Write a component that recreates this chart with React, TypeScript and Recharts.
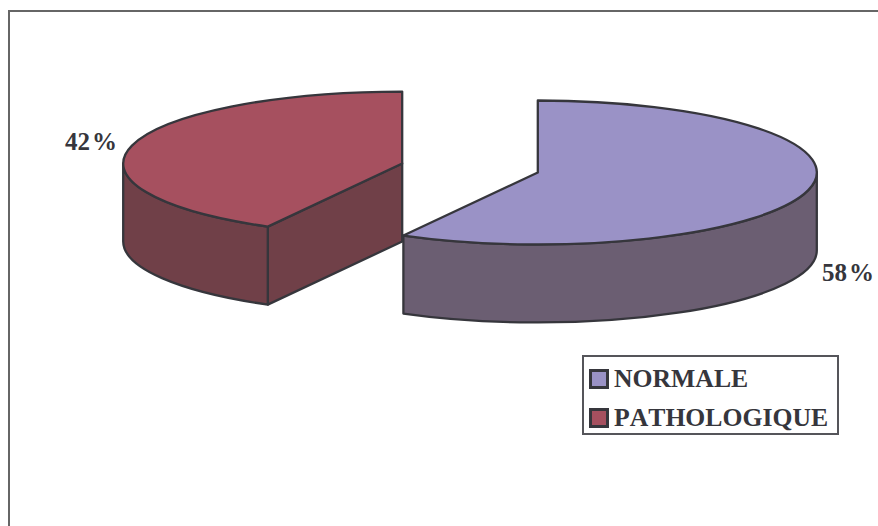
import { Legend, Pie, PieChart } from 'recharts';

const categories = ['NORMALE', 'PATHOLOGIQUE'];
const values = [58, 42];
const topColors = ['#9a92c6', '#a6505f'];
const sideColors = ['#6b5e72', '#704048'];

const data = categories.map((name, i) => ({
  name,
  value: values[i],
  fill: topColors[i],
  side: sideColors[i],
}));

const INK = '#36363c';
const SERIF = '"Liberation Serif", "Times New Roman", serif';
const SQUASH = 0.258; // vertical flattening of the disc
const DEPTH = 78; // height of the disc walls
const EXPLODE = 70; // how far each slice is pulled from the centre

// label offsets from the slice's rim at its mid angle
const labelNudge = [
  { dx: 40, dy: 91 },
  { dx: -41, dy: 4 },
];

const RAD = Math.PI / 180;

function sliceOrigin(cx: number, cy: number, mid: number) {
  return {
    x: cx + EXPLODE * Math.cos(mid * RAD),
    y: cy - EXPLODE * Math.sin(mid * RAD) * SQUASH,
  };
}

// Flattened pie slice with its front-facing walls
function Slice3D(props: any) {
  const { cx, cy, outerRadius: rx, startAngle, endAngle, midAngle, fill, payload } = props;
  const ry = rx * SQUASH;
  const o = sliceOrigin(cx, cy, midAngle);
  const at = (deg: number) => ({
    x: o.x + rx * Math.cos(deg * RAD),
    y: o.y - ry * Math.sin(deg * RAD),
  });
  const side = payload?.side ?? props.side;
  const start = at(startAngle);
  const end = at(endAngle);
  const large = Math.abs(startAngle - endAngle) > 180 ? 1 : 0;
  const top = `M${o.x},${o.y} L${start.x},${start.y} A${rx},${ry} 0 ${large} 1 ${end.x},${end.y} Z`;

  const walls: string[] = [];
  // cut faces, only those turned towards the viewer
  if (Math.sin((startAngle + 90) * RAD) < -1e-6) {
    walls.push(`M${o.x},${o.y} L${start.x},${start.y} V${start.y + DEPTH} L${o.x},${o.y + DEPTH} Z`);
  }
  if (Math.sin((endAngle - 90) * RAD) < -1e-6) {
    walls.push(`M${o.x},${o.y} L${end.x},${end.y} V${end.y + DEPTH} L${o.x},${o.y + DEPTH} Z`);
  }
  // outer wall covers the part of the rim on the lower half
  const hi = Math.min(startAngle, 0);
  const lo = Math.max(endAngle, -180);
  if (hi > lo) {
    const a = at(hi);
    const b = at(lo);
    walls.push(
      `M${a.x},${a.y} A${rx},${ry} 0 0 1 ${b.x},${b.y} V${b.y + DEPTH} A${rx},${ry} 0 0 0 ${a.x},${a.y + DEPTH} Z`,
    );
  }

  return (
    <g>
      {walls.map((d, i) => (
        <path key={i} d={d} fill={side} stroke={INK} strokeWidth={2.3} strokeLinejoin="round" />
      ))}
      <path d={top} fill={fill} stroke={INK} strokeWidth={2.3} strokeLinejoin="round" />
    </g>
  );
}

function SliceLabel(props: any) {
  const { cx, cy, outerRadius: rx, midAngle, value, index } = props;
  const o = sliceOrigin(cx, cy, midAngle);
  const x = o.x + rx * Math.cos(midAngle * RAD) + labelNudge[index].dx;
  const y = o.y - rx * SQUASH * Math.sin(midAngle * RAD) + labelNudge[index].dy;
  return (
    <text x={x} y={y} textAnchor="middle" fontFamily={SERIF} fontSize={25} fontWeight="bold" fill={INK}>
      {value}
      <tspan dx={2}>%</tspan>
    </text>
  );
}

function LegendBox({ payload }: any) {
  return (
    <div
      style={{
        boxSizing: 'border-box',
        width: 257,
        height: 80,
        border: `2px solid #55555a`,
        background: '#fff',
        paddingLeft: 5,
        paddingTop: 2,
      }}
    >
      {(payload ?? []).map((entry: any) => (
        <div key={entry.value} style={{ display: 'flex', alignItems: 'center', height: 39 }}>
          <span
            style={{
              boxSizing: 'border-box',
              width: 20,
              height: 20,
              marginRight: 5,
              background: entry.color ?? entry.payload?.fill,
              border: `3px solid ${INK}`,
            }}
          />
          <span
            style={{
              fontFamily: SERIF,
              fontWeight: 'bold',
              fontSize: 25.7,
              lineHeight: '30px',
              fontKerning: 'none',
              color: INK,
              whiteSpace: 'nowrap',
            }}
          >
            {entry.value}
          </span>
        </div>
      ))}
    </div>
  );
}

export default function App() {
  return (
    <div style={{ position: 'relative', width: 870, height: 518 }}>
      {/* no bottom margin: the frame runs down to the page edge */}
      <style>{'body { margin: 8px 0 0 8px; overflow: hidden; }'}</style>
      <div
        style={{
          position: 'absolute',
          left: 0,
          top: 2,
          width: 870,
          height: 516,
          boxSizing: 'border-box',
          borderLeft: '2px solid #666',
          borderTop: '2px solid #666',
        }}
      />
      <PieChart width={870} height={518} margin={{ top: 0, right: 0, bottom: 0, left: 0 }}>
        <Pie
          data={data}
          dataKey="value"
          nameKey="name"
          cx={462}
          cy={160}
          innerRadius={0}
          outerRadius={279}
          startAngle={90}
          endAngle={-270}
          stroke="none"
          isAnimationActive={false}
          shape={Slice3D}
          label={SliceLabel}
          labelLine={false}
        />
        <Legend
          layout="vertical"
          content={LegendBox}
          wrapperStyle={{ position: 'absolute', left: 574, top: 347, width: 257, height: 80, margin: 0 }}
        />
      </PieChart>
    </div>
  );
}
